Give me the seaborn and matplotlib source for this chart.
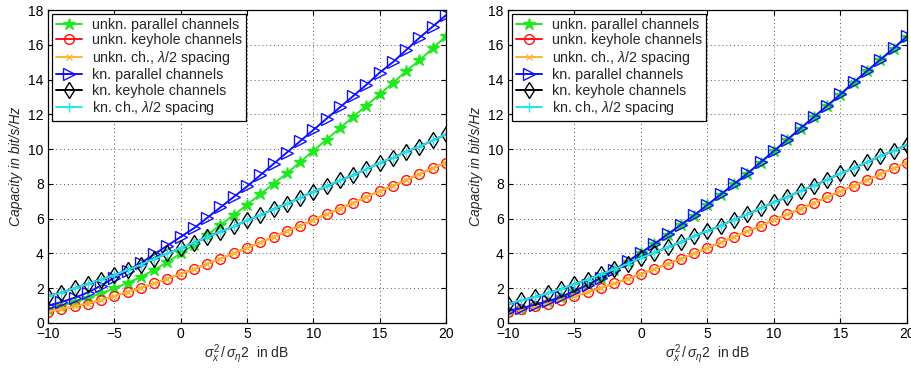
import numpy as np
import pandas as pd
import matplotlib
import matplotlib.pyplot as plt
import seaborn as sns

matplotlib.use('Agg')

snr_db = list(range(-10, 21))

# left panel
unkn_par_L = [0.8, 1.0, 1.2, 1.45, 1.7, 2.0, 2.3, 2.65, 3.05, 3.5, 4.0, 4.5, 5.05, 5.65, 6.2, 6.8,
              7.4, 8.0, 8.6, 9.25, 9.9, 10.55, 11.2, 11.85, 12.5, 13.15, 13.8, 14.5, 15.1, 15.8, 16.5]
unkn_key_L = [0.65, 0.8, 0.95, 1.12, 1.32, 1.55, 1.78, 2.02, 2.28, 2.55, 2.82, 3.1, 3.4, 3.7, 4.0, 4.32,
              4.63, 4.95, 5.28, 5.6, 5.93, 6.25, 6.58, 6.9, 7.25, 7.58, 7.9, 8.23, 8.57, 8.9, 9.23]
unkn_lam_L = unkn_key_L
kn_par_L = [1.0, 1.2, 1.45, 1.75, 2.15, 2.6, 3.0, 3.45, 3.95, 4.45, 4.95, 5.45, 6.05, 6.65, 7.25, 7.85,
            8.5, 9.15, 9.8, 10.45, 11.1, 11.75, 12.4, 13.05, 13.7, 14.4, 15.0, 15.7, 16.4, 17.05, 17.7]
kn_key_L = [1.55, 1.75, 2.0, 2.25, 2.5, 2.75, 3.05, 3.35, 3.7, 4.0, 4.3, 4.6, 4.95, 5.25, 5.55, 5.9,
            6.2, 6.55, 6.85, 7.2, 7.55, 7.85, 8.2, 8.5, 8.85, 9.2, 9.5, 9.85, 10.15, 10.5, 10.85]
kn_lam_L = kn_key_L

# right panel
unkn_par_R = [0.68, 0.83, 1.02, 1.22, 1.47, 1.82, 2.17, 2.57, 3.02, 3.52, 4.02, 4.52, 5.07, 5.62, 6.17, 6.77,
              7.37, 7.97, 8.57, 9.22, 9.87, 10.52, 11.17, 11.82, 12.47, 13.12, 13.82, 14.47, 15.12, 15.77, 16.47]
unkn_key_R = unkn_key_L
unkn_lam_R = unkn_key_L
kn_par_R = [0.7, 0.85, 1.05, 1.25, 1.5, 1.85, 2.2, 2.6, 3.05, 3.55, 4.05, 4.55, 5.1, 5.65, 6.2, 6.8,
            7.4, 8.0, 8.6, 9.25, 9.9, 10.55, 11.2, 11.85, 12.5, 13.15, 13.85, 14.5, 15.15, 15.8, 16.5]
kn_key_R = [1.1, 1.3, 1.5, 1.7, 1.95, 2.25, 2.5, 2.8, 3.1, 3.4, 3.75, 4.05, 4.35, 4.65, 5.0, 5.3,
            5.6, 5.95, 6.25, 6.6, 6.95, 7.25, 7.6, 7.9, 8.25, 8.6, 8.9, 9.25, 9.6, 9.9, 10.25]
kn_lam_R = kn_key_R

labels = ['unkn. parallel channels', 'unkn. keyhole channels', r'unkn. ch., $\lambda$/2 spacing',
          'kn. parallel channels', 'kn. keyhole channels', r'kn. ch., $\lambda$/2 spacing']

styles = [
    dict(color='#1fe81f', marker='*', markersize=9, mfc='#1fe81f'),
    dict(color='#ff1010', marker='o', markersize=7, mfc='none'),
    dict(color='#ffb52e', marker='x', markersize=4, mfc='none'),
    dict(color='#1010ff', marker='>', markersize=8, mfc='none'),
    dict(color='black', marker='d', markersize=8, mfc='none'),
    dict(color='#22e4f2', marker='+', markersize=7, mfc='none'),
]

sns.set_theme(style='ticks')
plt.rcParams['font.family'] = ['Liberation Sans', 'DejaVu Sans']
plt.rcParams['mathtext.fontset'] = 'custom'
plt.rcParams['mathtext.rm'] = 'Liberation Sans'
plt.rcParams['mathtext.it'] = 'Liberation Sans:italic'
plt.rcParams['mathtext.sf'] = 'Liberation Sans'
plt.rcParams['xtick.direction'] = 'in'
plt.rcParams['ytick.direction'] = 'in'

fig = plt.figure(figsize=(9.12, 3.68), dpi=100)
ax_l = fig.add_axes([0.0526, 0.1223, 0.4364, 0.8505])
ax_r = fig.add_axes([0.557, 0.1223, 0.4375, 0.8505])

panels = [
    (ax_l, [unkn_par_L, unkn_key_L, unkn_lam_L, kn_par_L, kn_key_L, kn_lam_L]),
    (ax_r, [unkn_par_R, unkn_key_R, unkn_lam_R, kn_par_R, kn_key_R, kn_lam_R]),
]

for ax, series in panels:
    for vals, lab, st in zip(series, labels, styles):
        df = pd.DataFrame({'snr': snr_db, 'cap': vals})
        sns.lineplot(data=df, x='snr', y='cap', ax=ax, color=st['color'], marker=st['marker'],
                     markersize=st['markersize'], markerfacecolor=st['mfc'],
                     markeredgecolor=st['color'], markeredgewidth=1.0, linewidth=1.4, label=lab)
    ax.set_xlim(-10, 20)
    ax.set_ylim(0, 18)
    ax.set_xticks([-10, -5, 0, 5, 10, 15, 20])
    ax.set_yticks(range(0, 19, 2))
    ax.grid(True, linestyle=(0, (1, 3)), color='#555555', linewidth=0.7)
    ax.tick_params(labelsize=10, length=3.5, width=0.8, top=True, right=True, pad=3, colors='black')
    for sp in ax.spines.values():
        sp.set_linewidth(0.9)
        sp.set_color('black')
    ax.set_xlabel(r'$\sigma_x^2\,/\,\sigma_\eta 2$  in dB', fontsize=10, labelpad=1)
    ax.set_ylabel('Capacity in bit/s/Hz', fontsize=10, style='italic', labelpad=4)
    leg = ax.legend(loc='upper left', fontsize=10.3, frameon=True, fancybox=False, framealpha=1,
                    edgecolor='black', borderaxespad=0.25, handlelength=1.8, handletextpad=0.7,
                    labelspacing=0.1, borderpad=0.3)
    leg.get_frame().set_linewidth(0.9)

plt.savefig('out.png', dpi=100)
plt.close()
